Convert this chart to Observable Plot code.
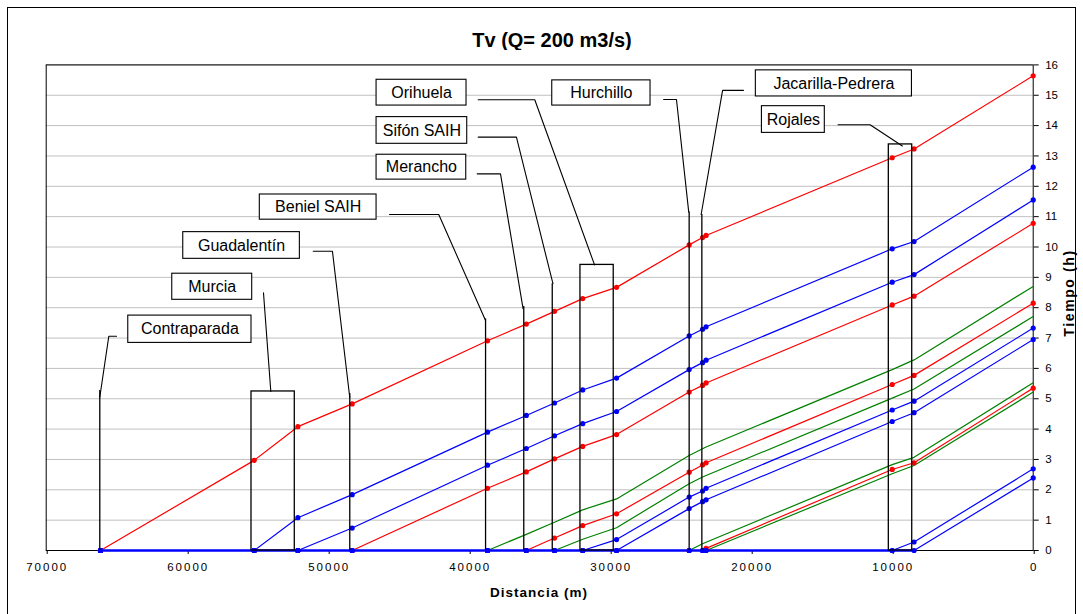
<!DOCTYPE html>
<html>
<head>
<meta charset="utf-8">
<script src="https://cdn.jsdelivr.net/npm/d3@7"></script>
<script src="https://cdn.jsdelivr.net/npm/@observablehq/plot@0.6"></script>
<style>
  body { margin: 0; background: #fff; font-family: "Liberation Sans", Arial, sans-serif; }
  #wrap { position: relative; width: 1083px; height: 614px; overflow: hidden; background: #fff; }
  #outer { position: absolute; left: 7px; top: 7px; width: 1069px; height: 640px; border: 1px solid #000; box-sizing: border-box; pointer-events: none; }
  #title { position: absolute; left: 552px; top: 30px; transform: translateX(-50%); font-weight: bold; font-size: 20px; line-height: 20px; white-space: nowrap; color: #000; }
  #chart { position: absolute; left: 0; top: 50px; }
  #xlabel { position: absolute; left: 539px; top: 592px; transform: translate(-50%, -50%); font-weight: bold; font-size: 13.5px; letter-spacing: 1px; white-space: nowrap; }
  #ylabel { position: absolute; left: 1069px; top: 293px; transform: translate(-50%, -50%) rotate(-90deg); font-weight: bold; font-size: 14px; letter-spacing: 1.6px; white-space: nowrap; }
</style>
</head>
<body>
<div id="wrap">
  <div id="title">Tv (Q= 200 m3/s)</div>
  <div id="chart"></div>
  <div id="xlabel">Distancia (m)</div>
  <div id="ylabel">Tiempo (h)</div>
  <div id="outer"></div>
</div>
<script>
// ---- Data ----
// Station distances (m): Contraparada, Murcia (2), Guadalentín, Beniel, Merancho, Sifón, Orihuela (2), Hurchillo, Jacarilla (2), Rojales (2), end
const distances = [66150, 55250, 52150, 48300, 38700, 35950, 33950, 31950, 29550, 24400, 23450, 23200, 10000, 8450, 0];

const red1   = [0, 2.97, 4.08, 4.83, 6.91, 7.46, 7.88, 8.30, 8.67, 10.07, 10.31, 10.38, 12.94, 13.23, 15.64];
const blue1  = [0, 0, 1.08, 1.84, 3.90, 4.45, 4.86, 5.29, 5.68, 7.07, 7.29, 7.37, 9.94, 10.18, 12.63];
const blue2  = [0, 0, 0, 0.74, 2.81, 3.36, 3.78, 4.18, 4.58, 5.96, 6.19, 6.27, 8.84, 9.09, 11.55];
const red2   = [0, 0, 0, 0, 2.05, 2.59, 3.02, 3.43, 3.82, 5.22, 5.44, 5.52, 8.09, 8.38, 10.78];
const red3   = [0, 0, 0, 0, 0, 0, 0.41, 0.82, 1.21, 2.58, 2.82, 2.89, 5.47, 5.77, 8.15];
const blue3  = [0, 0, 0, 0, 0, 0, 0, 0, 0.36, 1.76, 1.96, 2.05, 4.63, 4.92, 7.33];
const blue4  = [0, 0, 0, 0, 0, 0, 0, 0, 0, 1.38, 1.61, 1.67, 4.25, 4.54, 6.95];
const red4   = [0, 0, 0, 0, 0, 0, 0, 0, 0, 0, 0, 0.07, 2.67, 2.89, 5.35];
const blue5  = [0, 0, 0, 0, 0, 0, 0, 0, 0, 0, 0, 0, 0, 0.28, 2.69];
const blue6  = [0, 0, 0, 0, 0, 0, 0, 0, 0, 0, 0, 0, 0, 0, 2.39];
const green1 = [0, 0, 0, 0, 0, 0.53, 0.93, 1.34, 1.70, 3.13, 3.35, 3.41, 5.96, 6.28, 8.70];
const green2 = [0, 0, 0, 0, 0, 0, 0, 0.37, 0.75, 2.20, 2.42, 2.47, 5.02, 5.32, 7.71];
const green3 = [0, 0, 0, 0, 0, 0, 0, 0, 0, 0, 0.22, 0.27, 2.83, 3.07, 5.53];
const green4 = [0, 0, 0, 0, 0, 0, 0, 0, 0, 0, 0, 0, 2.53, 2.80, 5.22];

const greenSeries = {green1, green2, green3, green4};
const redSeries = {red1, red2, red3, red4};
const blueSeries = {blue1, blue2, blue3, blue4, blue5, blue6};

// Axis ticks
const xTicks = [70000, 60000, 50000, 40000, 30000, 20000, 10000, 0];
const yTicks = [0, 1, 2, 3, 4, 5, 6, 7, 8, 9, 10, 11, 12, 13, 14, 15, 16];

// Callout labels (text boxes) in data units: distance (m), time (h)
const calloutLabels = ["Contraparada", "Murcia", "Guadalentín", "Beniel SAIH", "Merancho", "Sifón SAIH", "Orihuela", "Hurchillo", "Jacarilla-Pedrera", "Rojales"];
const boxLeft   = [64180, 61060, 60280, 54850, 46570, 46570, 46570, 34110, 19670, 19240];
const boxRight  = [55440, 55390, 52010, 46570, 40210, 40140, 40190, 27140, 8600, 14780];
const boxTop    = [7.74, 9.12, 10.49, 11.73, 13.04, 14.28, 15.51, 15.49, 15.82, 14.64];
const boxBottom = [6.84, 8.26, 9.61, 10.90, 12.22, 13.40, 14.66, 14.66, 14.96, 13.76];

// Leader lines for each callout
const leaderD = [
  [65010, 65560, 66200],
  [54590, 54070],
  [51060, 49700, 48470],
  [45650, 42160, 38840],
  [39430, 37780, 36180],
  [39360, 36650, 34060],
  [39360, 35350, 31110],
  [26210, 25300, 24430],
  [20550, 22030, 23550],
  [13840, 11570, 9280]
];
const leaderT = [
  [7.06, 7.06, 5.05],
  [8.49, 5.24],
  [9.86, 9.86, 5.04],
  [11.07, 11.07, 7.58],
  [12.41, 12.41, 7.97],
  [13.62, 13.62, 8.79],
  [14.85, 14.85, 9.41],
  [14.86, 14.86, 11.15],
  [15.16, 15.16, 11.07],
  [14.03, 14.03, 13.33]
];

// Station marker lines and station boxes
const ruleD   = [66200, 48470, 38840, 36130, 34110, 24400, 23500];
const ruleTop = [5.27, 5.17, 7.63, 8.04, 8.79, 11.15, 11.07];
const sboxLeft  = [55440, 32110, 10240];
const sboxRight = [52370, 29750, 8580];
const sboxTop   = [5.24, 9.41, 13.38];

// ---- Build tables ----
function rowsOf(group, color) {
  const rows = [];
  for (const [name, vals] of Object.entries(group)) {
    vals.forEach((t, i) => rows.push({series: name, color, d: distances[i], t}));
  }
  return rows;
}
const greenRows = rowsOf(greenSeries, "#008000");
const redRows = rowsOf(redSeries, "#ff0000");
const blueRows = rowsOf(blueSeries, "#0000ff");

const boxes = calloutLabels.map((label, i) => ({
  label, x1: boxLeft[i], x2: boxRight[i], y1: boxBottom[i], y2: boxTop[i],
  cx: (boxLeft[i] + boxRight[i]) / 2, cy: (boxTop[i] + boxBottom[i]) / 2
}));
const leaders = [];
calloutLabels.forEach((label, i) => leaderD[i].forEach((d, j) => leaders.push({label, d, t: leaderT[i][j]})));
const rules = ruleD.map((d, i) => ({d, top: ruleTop[i]}));
const sboxes = sboxLeft.map((l, i) => ({x1: l, x2: sboxRight[i], top: sboxTop[i]}));

// thick zero baseline where blue series overlap
let lastZero = 0;
Object.values(blueSeries).forEach(v => v.forEach((t, i) => { if (t === 0 && i > lastZero) lastZero = i; }));
const baseline = [{x1: distances[0], x2: distances[lastZero]}];

const font = '"Liberation Sans", Arial, sans-serif';

const chart = Plot.plot({
  width: 1083,
  height: 564,
  marginTop: 14.4,
  marginBottom: 64,
  marginLeft: 45.7,
  marginRight: 50.3,
  style: {fontFamily: font, fontSize: "11.5px", color: "#000", background: "#fff"},
  x: {domain: [70000, 0]},
  y: {domain: [0, 16]},
  color: {type: "identity"},
  marks: [
    Plot.gridY(yTicks, {stroke: "#c0c0c0", strokeOpacity: 1, strokeWidth: 1}),
    Plot.frame({stroke: "#000", strokeWidth: 1}),
    Plot.axisX({ticks: xTicks, tickFormat: d3.format("d"), tickSize: 4, tickPadding: 8, label: null, dx: 1}),
    Plot.axisY({anchor: "right", ticks: yTicks, tickFormat: d3.format("d"), tickSize: 5, tickPadding: 7, label: null}),
    Plot.line(greenRows, {x: "d", y: "t", z: "series", stroke: "color", strokeWidth: 1.2}),
    Plot.line(redRows, {x: "d", y: "t", z: "series", stroke: "color", strokeWidth: 1.2}),
    Plot.line(blueRows, {x: "d", y: "t", z: "series", stroke: "color", strokeWidth: 1.2}),
    Plot.ruleY(baseline, {x1: "x1", x2: "x2", y: 0, stroke: "#0000ff", strokeWidth: 2.6}),
    Plot.dot(redRows, {x: "d", y: "t", fill: "color", r: 2.6, stroke: null}),
    Plot.dot(blueRows, {x: "d", y: "t", fill: "color", r: 2.6, stroke: null}),
    Plot.ruleX(rules, {x: "d", y1: 0, y2: "top", stroke: "#000", strokeWidth: 1.3}),
    Plot.rect(sboxes, {x1: "x1", x2: "x2", y1: 0, y2: "top", fill: "none", stroke: "#000", strokeWidth: 1.3}),
    Plot.line(leaders, {x: "d", y: "t", z: "label", stroke: "#000", strokeWidth: 1.1}),
    Plot.rect(boxes, {x1: "x1", x2: "x2", y1: "y1", y2: "y2", fill: "#fff", stroke: "#000", strokeWidth: 1.1}),
    Plot.text(boxes, {x: "cx", y: "cy", text: "label", fontSize: 16, fill: "#000", textAnchor: "middle", lineAnchor: "middle", fontFamily: font})
  ]
});
const xLabels = chart.querySelector('g[aria-label="x-axis tick label"]');
if (xLabels) xLabels.style.letterSpacing = "2px";
document.getElementById("chart").appendChild(chart);
</script>
</body>
</html>
